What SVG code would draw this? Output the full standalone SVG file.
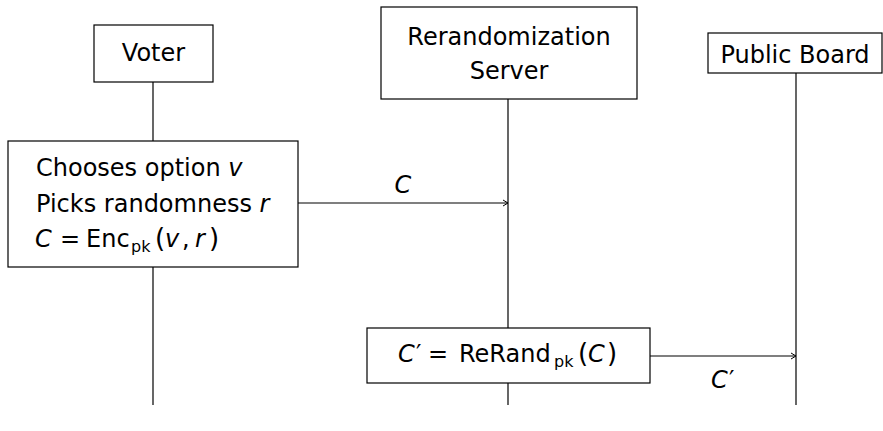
<svg xmlns="http://www.w3.org/2000/svg" width="883" height="431" viewBox="0 0 883 431">
<style>
.box{fill:#fff;stroke:#000;stroke-width:1.2}
.life{stroke:#000;stroke-width:1.2;fill:none}
.msg{stroke:#000;stroke-width:1.2;fill:none;marker-end:url(#arr)}
text{font-family:"DejaVu Sans","Liberation Sans",sans-serif;font-size:24px;fill:#000}
.c{text-anchor:middle}
.i{font-style:italic}
.sub{font-size:16px}
.p{font-size:26px}
</style>
<defs>
<marker id="arr" markerWidth="8" markerHeight="8" refX="6" refY="4" orient="auto" markerUnits="userSpaceOnUse">
<path d="M1,1 L6,4 L1,7" fill="none" stroke="#000" stroke-width="1"/>
</marker>
</defs>
<g id="lifelines">
<line class="life" x1="153" y1="82" x2="153" y2="405"/>
<line class="life" x1="508" y1="99" x2="508" y2="405"/>
<line class="life" x1="796" y1="73" x2="796" y2="405"/>
</g>
<g id="voter">
<rect class="box" x="94" y="25" width="119" height="57"/>
<text class="c" x="153.5" y="61">Voter</text>
</g>
<g id="server">
<rect class="box" x="381" y="7" width="256" height="92"/>
<text class="c" x="509" y="45">Rerandomization</text>
<text class="c" x="509" y="79">Server</text>
</g>
<g id="board">
<rect class="box" x="708" y="33" width="174" height="40"/>
<text class="c" x="795" y="63">Public Board</text>
</g>
<g id="voter-action">
<rect class="box" x="8" y="141" width="290" height="126"/>
<text x="36" y="176">Chooses option <tspan class="i">v</tspan></text>
<text x="36" y="212">Picks randomness <tspan class="i">r</tspan></text>
<text y="247"><tspan class="i" x="35">C</tspan><tspan x="60">=</tspan><tspan x="86">Enc</tspan><tspan class="sub" x="131" dy="5">pk</tspan><tspan class="p" x="155" dy="-5">(</tspan><tspan class="i" x="165">v</tspan><tspan x="182">,</tspan><tspan class="i" x="195">r</tspan><tspan class="p" x="209">)</tspan></text>
</g>
<g id="rerand-action">
<rect class="box" x="367" y="328" width="283" height="55"/>
<text y="362"><tspan class="i" x="398">C</tspan><tspan x="416">′</tspan><tspan x="428">=</tspan><tspan x="459">ReRand</tspan><tspan class="sub" x="554" dy="5">pk</tspan><tspan class="p" x="578" dy="-5">(</tspan><tspan class="i" x="588">C</tspan><tspan class="p" x="607">)</tspan></text>
</g>
<g id="connectors">
<line class="msg" x1="298" y1="203" x2="508" y2="203"/>
<text class="c i" x="403" y="193">C</text>
<line class="msg" x1="650" y1="356" x2="796" y2="356"/>
<text y="388"><tspan class="i" x="711">C</tspan><tspan x="729">′</tspan></text>
</g>
</svg>
